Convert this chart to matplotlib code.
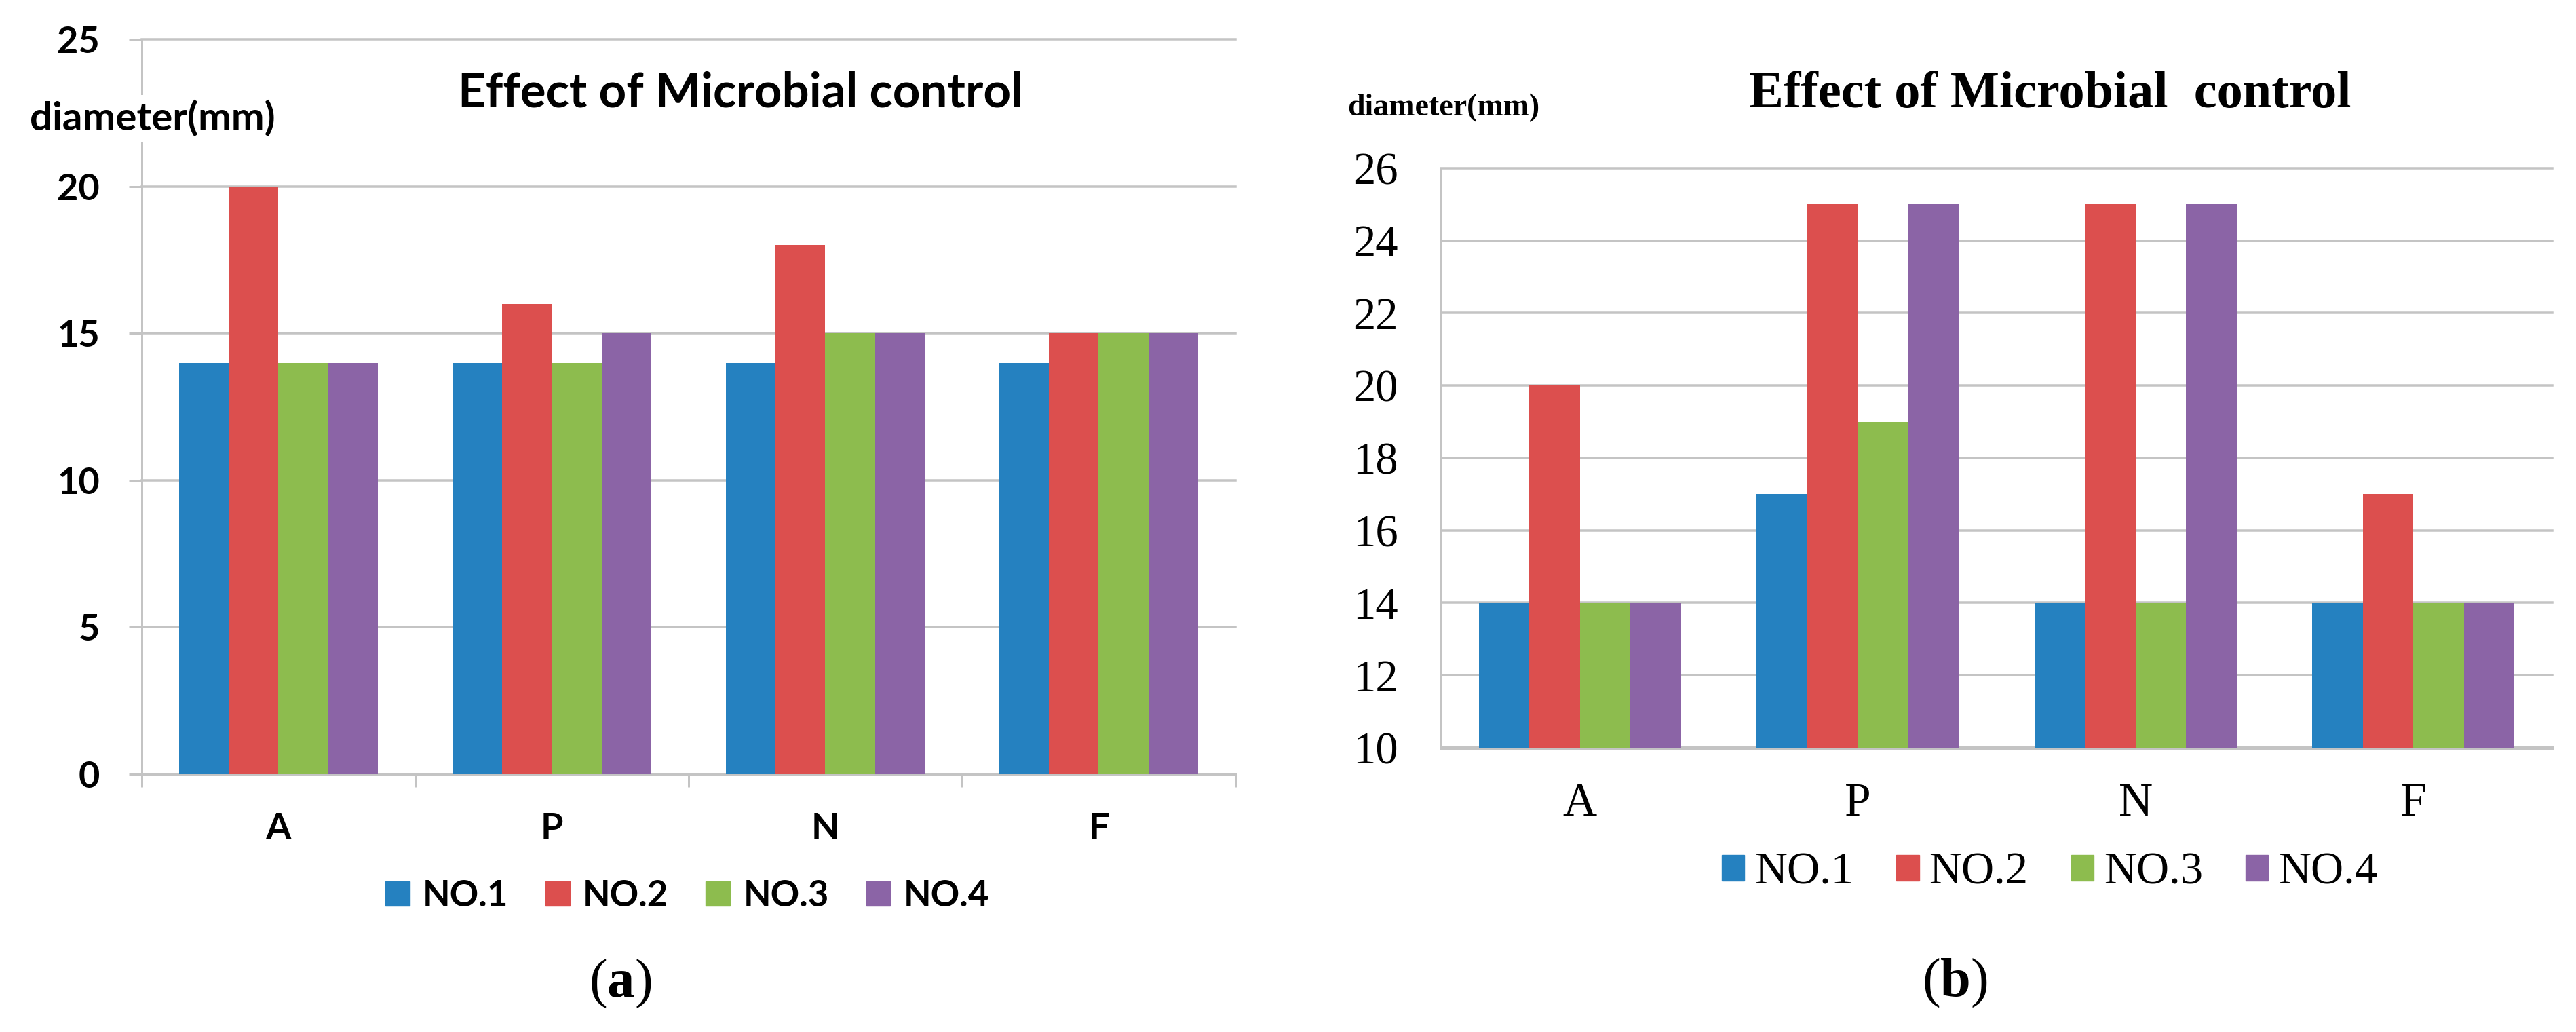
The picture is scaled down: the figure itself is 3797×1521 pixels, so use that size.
import matplotlib
matplotlib.use('Agg')
import matplotlib.pyplot as plt
import numpy as np
from matplotlib.patches import Patch
from matplotlib.font_manager import FontProperties

# ---------------- data ----------------
categories = ['A', 'P', 'N', 'F']
series = ['NO.1', 'NO.2', 'NO.3', 'NO.4']

a_no1 = [14, 14, 14, 14]
a_no2 = [20, 16, 18, 15]
a_no3 = [14, 14, 15, 15]
a_no4 = [14, 15, 15, 15]

b_no1 = [14, 17, 14, 14]
b_no2 = [20, 25, 25, 17]
b_no3 = [14, 19, 14, 14]
b_no4 = [14, 25, 25, 14]

a_yticks = [0, 5, 10, 15, 20, 25]
b_yticks = [10, 12, 14, 16, 18, 20, 22, 24, 26]

title_a = 'Effect of Microbial control'
title_b = 'Effect of Microbial  control'
ylabel = 'diameter(mm)'

colors = ['#2581C0', '#DC4F4E', '#8DBC4E', '#8B64A6']
grid_c = '#c4c4c4'

W, H, DPI = 3798, 1521, 100


def px(v):
    return v * 72.0 / DPI


plt.rcParams['mathtext.fontset'] = 'custom'
plt.rcParams['mathtext.rm'] = 'Liberation Serif'
plt.rcParams['mathtext.bf'] = 'Liberation Serif:bold'

fig = plt.figure(figsize=(W / DPI, H / DPI), dpi=DPI)
fig.patch.set_facecolor('white')


def fx(x):
    return x / W


def fy(y):
    return 1 - y / H


def draw_bars(ax, data, bw):
    x = np.arange(len(categories))
    for i, (vals, c) in enumerate(zip(data, colors)):
        ax.bar(x + (i - 1.5) * bw, vals, width=bw, color=c, zorder=3,
               linewidth=0, label=series[i])


bw = 1 / 5.5

# ---------------- panel (a) ----------------
fa = dict(family='Lato', weight='bold')
axa = fig.add_axes([fx(209), fy(1141), fx(1821 - 209), (1141 - 58) / H])
draw_bars(axa, [a_no1, a_no2, a_no3, a_no4], bw)
axa.set_xlim(-0.5, 3.5)
axa.set_ylim(0, 25)
axa.set_yticks(a_yticks)
axa.set_axisbelow(True)
axa.yaxis.grid(True, color=grid_c, lw=px(3.5))
for gl in axa.get_ygridlines():
    gl.set_clip_on(False)
for s in ['top', 'right']:
    axa.spines[s].set_visible(False)
axa.spines['left'].set_color(grid_c)
axa.spines['left'].set_linewidth(px(3))
axa.spines['bottom'].set_color(grid_c)
axa.spines['bottom'].set_linewidth(px(5))
axa.set_xticks(range(len(categories)))
axa.set_xticklabels(categories)
axa.set_xticks([-0.5, 0.5, 1.5, 2.5, 3.5], minor=True)
axa.tick_params(axis='x', which='major', length=0, pad=px(56))
axa.tick_params(axis='x', which='minor', length=px(19), width=px(3), color=grid_c)
axa.tick_params(axis='y', length=px(19), width=px(3), color=grid_c, pad=px(43))
for lbl in axa.get_yticklabels() + axa.get_xticklabels():
    lbl.set_fontfamily('Lato')
    lbl.set_fontweight('bold')
    lbl.set_fontsize(39)
for lbl in axa.get_xticklabels():
    lbl.set_fontsize(39)

fig.text(fx(225), fy(192), ylabel, ha='center', va='baseline', fontsize=42,
         zorder=10, bbox=dict(facecolor='white', edgecolor='none', pad=6), **fa)
fig.text(fx(1091), fy(158), title_a, ha='center', va='baseline', fontsize=51, **fa)

leg_a = fig.legend([Patch(color=c) for c in colors], series, loc='center',
                   bbox_to_anchor=(fx(1013), fy(1320)), ncol=4, frameon=False,
                   prop=FontProperties(family='Lato', weight='bold', size=38),
                   handlelength=0.68, handleheight=0.68, handletextpad=0.36,
                   columnspacing=1.04, borderaxespad=0, borderpad=0)

fig.text(fx(914), fy(1450), r'($\mathbf{a}$)', ha='center', va='center',
         fontsize=58, family='Liberation Serif')

# ---------------- panel (b) ----------------
axb = fig.add_axes([fx(2124), fy(1102), fx(3762 - 2124), (1102 - 248) / H])
draw_bars(axb, [b_no1, b_no2, b_no3, b_no4], bw)
axb.set_xlim(-0.5, 3.5)
axb.set_ylim(10, 26)
axb.set_yticks(b_yticks)
axb.set_axisbelow(True)
axb.yaxis.grid(True, color=grid_c, lw=px(3.5))
for gl in axb.get_ygridlines():
    gl.set_clip_on(False)
for s in ['top', 'right']:
    axb.spines[s].set_visible(False)
axb.spines['left'].set_color(grid_c)
axb.spines['left'].set_linewidth(px(3))
axb.spines['bottom'].set_color(grid_c)
axb.spines['bottom'].set_linewidth(px(5))
axb.set_xticks(range(len(categories)))
axb.set_xticklabels(categories)
axb.tick_params(axis='x', length=0, pad=px(52))
axb.tick_params(axis='y', length=0, pad=px(63))
for lbl in axb.get_yticklabels() + axb.get_xticklabels():
    lbl.set_fontfamily('Liberation Serif')
    lbl.set_fontsize(48)
for lbl in axb.get_xticklabels():
    lbl.set_fontsize(50)

fig.text(fx(2128), fy(170), ylabel, ha='center', va='baseline', fontsize=33,
         family='Liberation Serif', weight='bold')
fig.text(fx(3022), fy(158), title_b, ha='center', va='baseline', fontsize=55,
         family='Liberation Serif', weight='bold')

leg_b = fig.legend([Patch(color=c) for c in colors], series, loc='center',
                   bbox_to_anchor=(fx(3021), fy(1286)), ncol=4, frameon=False,
                   prop=FontProperties(family='Liberation Serif', size=48),
                   handlelength=0.5, handleheight=0.5, handletextpad=0.22,
                   columnspacing=0.95, borderaxespad=0, borderpad=0)

fig.text(fx(2881), fy(1449), r'($\mathbf{b}$)', ha='center', va='center',
         fontsize=58, family='Liberation Serif')

fig.savefig('out.png', dpi=DPI, facecolor='white')
